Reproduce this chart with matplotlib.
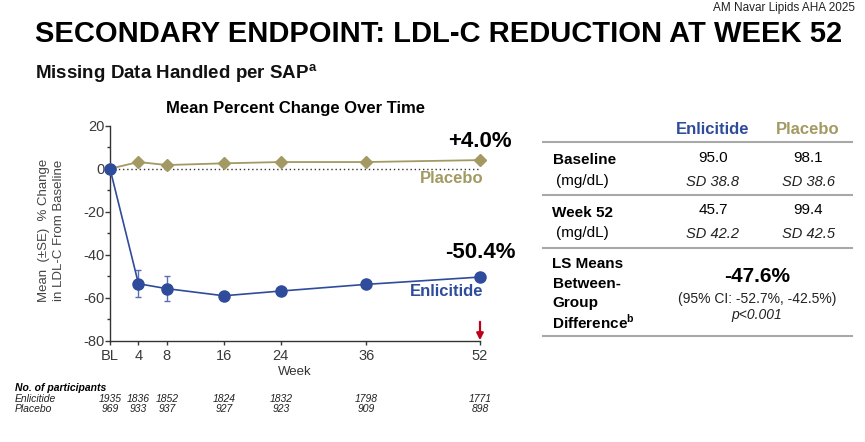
import matplotlib
matplotlib.use("Agg")
import matplotlib.pyplot as plt
from matplotlib.lines import Line2D
from matplotlib.ticker import MultipleLocator
import matplotlib.transforms as mtransforms

plt.rcParams['font.family'] = ['Liberation Sans', 'DejaVu Sans']
plt.rcParams['axes.unicode_minus'] = False

# data
weeks = [0, 4, 8, 16, 24, 36, 52]
week_labels = ["BL", "4", "8", "16", "24", "36", "52"]
enl_mean = [0, -53.5, -55.8, -59.1, -56.9, -53.8, -50.4]
enl_se = [0, 6.4, 5.8, 0, 0, 0, 0]
pbo_mean = [0, 3.1, 1.7, 2.5, 3.1, 3.1, 4.0]
n_enl = [1935, 1836, 1852, 1824, 1832, 1798, 1771]
n_pbo = [969, 933, 937, 927, 923, 909, 898]

BLUE = "#2F4B9B"
GOLD = "#A39A63"
W, H = 865, 442

fig = plt.figure(figsize=(W / 100, H / 100), dpi=100)


def fx(x):
    return x / W


def fy(y):
    return 1 - y / H


def ftext(x, y, s, **kw):
    kw.setdefault("va", "center")
    fig.text(fx(x), fy(y), s, **kw)


# header texts
ftext(855, 8, "AM Navar Lipids AHA 2025", ha="right", fontsize=8.5, color="#222222")
ftext(35, 34, "SECONDARY ENDPOINT: LDL-C REDUCTION AT WEEK 52", ha="left",
      fontsize=21, fontweight="bold", color="black")
ftext(35, 74, "Missing Data Handled per SAP$^{\\mathregular{a}}$", ha="left",
      fontsize=13.5, fontweight="bold", color="#111111")

# the line chart
ax = fig.add_axes([fx(110), fy(340.7), 370 / W, 215 / H])
ax.axhline(0, color="#333333", lw=1, ls=(0, (1, 2)), zorder=1)
ax.plot(weeks, pbo_mean, color=GOLD, lw=1.3, marker="D", ms=6,
        clip_on=False, zorder=3)
ax.errorbar(weeks, enl_mean, yerr=enl_se, color=BLUE, lw=1.2, marker="o",
            ms=8, capsize=2.5, elinewidth=1, ecolor="#5A6FB0",
            clip_on=False, zorder=4)

ax.set_xlim(0, 52)
ax.set_ylim(-80, 20)
ax.set_xticks(weeks)
ax.set_xticklabels(week_labels)
ax.yaxis.set_major_locator(MultipleLocator(20))
ax.yaxis.set_minor_locator(MultipleLocator(10))
for s in ["top", "right"]:
    ax.spines[s].set_visible(False)
for s in ["left", "bottom"]:
    ax.spines[s].set_color("#333333")
    ax.spines[s].set_linewidth(1)
ax.tick_params(axis="y", which="major", length=3.5, width=1, pad=0.5,
               labelsize=10.5, colors="#3a3a3a")
ax.tick_params(axis="y", which="minor", length=2, width=1, colors="#333333")
ax.tick_params(axis="x", length=3, width=1, pad=3, labelsize=10.5,
               colors="#3a3a3a")
ax.set_xlabel("Week", fontsize=9.5, color="#333333", labelpad=2)
ax.set_ylabel("Mean  (\u00b1SE)  % Change\nin LDL-C From Baseline",
              fontsize=9.5, color="#444444", linespacing=1.35)
ax.yaxis.set_label_coords(-0.122, 0.515)

ax.set_title("Mean Percent Change Over Time", fontsize=12, fontweight="bold",
             pad=9)

ax.text(52, pbo_mean[-1] + 8.5, "+4.0%", ha="center", va="center",
        fontsize=16, fontweight="bold", clip_on=False)
ax.text(52, enl_mean[-1] + 11.5, "-50.4%", ha="center", va="center",
        fontsize=16, fontweight="bold", clip_on=False)
ax.text(52.5, -4.7, "Placebo", ha="right", va="center", fontsize=12,
        fontweight="bold", color=GOLD)
ax.text(52.5, -57.3, "Enlicitide", ha="right", va="center", fontsize=12,
        fontweight="bold", color=BLUE)
ax.annotate("", xy=(52, -79.8), xytext=(52, -71.2),
            arrowprops=dict(arrowstyle="-|>", color="#C0001A", lw=1.6,
                            mutation_scale=10, shrinkA=0, shrinkB=0))

# participants below the axis
tr = mtransforms.blended_transform_factory(ax.transData, fig.transFigure)
ftext(15, 388, "No. of participants", ha="left", fontsize=7.5,
      fontweight="bold", style="italic")
ftext(15, 398.5, "Enlicitide", ha="left", fontsize=7.5, style="italic",
      color="#222222")
ftext(15, 409.5, "Placebo", ha="left", fontsize=7.5, style="italic",
      color="#222222")
for w, a, b in zip(weeks, n_enl, n_pbo):
    ax.text(w, fy(398.5), str(a), transform=tr, ha="center", va="center",
            fontsize=7.5, style="italic", color="#222222")
    ax.text(w, fy(409.5), str(b), transform=tr, ha="center", va="center",
            fontsize=7.5, style="italic", color="#222222")

# summary table on the right
col1, col2 = 713, 808
ftext(col1, 129, "Enlicitide", ha="center", fontsize=12, fontweight="bold",
      color=BLUE)
ftext(col2, 129, "Placebo", ha="center", fontsize=12, fontweight="bold",
      color=GOLD)
for y in [142.3, 195, 247.7, 336]:
    fig.add_artist(Line2D([fx(543), fx(852)], [fy(y), fy(y)],
                          color="#A8A8A8", lw=1.5))

rows = [
    ("Baseline", 160, 181.5, "95.0", "98.1", "SD 38.8", "SD 38.6"),
    ("Week 52", 212.5, 233.5, "45.7", "99.4", "SD 42.2", "SD 42.5"),
]
for name, y1, y2, v1, v2, s1, s2 in rows:
    ftext(552.5, y1, name, ha="left", fontsize=11, fontweight="bold")
    ftext(556, y2, "(mg/dL)", ha="left", fontsize=11)
    ftext(col1, y1 - 2, v1, ha="center", fontsize=11)
    ftext(col2, y1 - 2, v2, ha="center", fontsize=11)
    ftext(col1, y2, s1, ha="center", fontsize=10.5, style="italic",
          color="#222222")
    ftext(col2, y2, s2, ha="center", fontsize=10.5, style="italic",
          color="#222222")

for i, line in enumerate(["LS Means", "Between-", "Group"]):
    ftext(552.5, 264 + i * 19.5, line, ha="left", fontsize=11,
          fontweight="bold")
ftext(552.5, 322.5, "Difference$^{\\mathregular{b}}$", ha="left", fontsize=11,
      fontweight="bold")
ftext(757, 277, "-47.6%", ha="center", fontsize=15, fontweight="bold")
ftext(757, 298.5, "(95% CI: -52.7%, -42.5%)", ha="center", fontsize=10,
      color="#222222")
ftext(757, 315, "p<0.001", ha="center", fontsize=10, style="italic",
      color="#222222")

fig.savefig("out.png", dpi=100)
